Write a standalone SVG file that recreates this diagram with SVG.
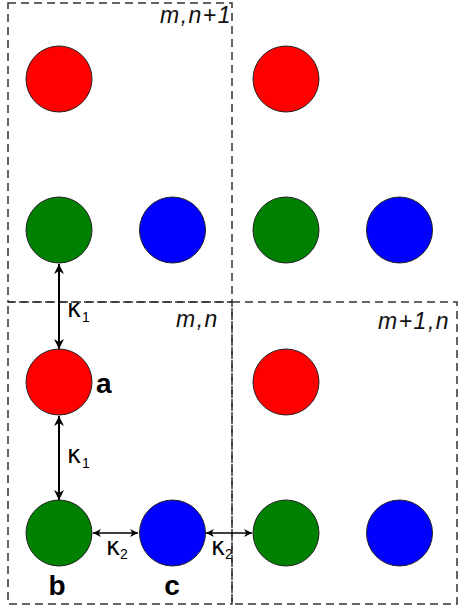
<svg xmlns="http://www.w3.org/2000/svg" width="459" height="609" viewBox="0 0 459 609">
<defs>
<style>
.box{fill:none;stroke:#333;stroke-width:1.5;stroke-dasharray:8 5}
.r{fill:#ff0000;stroke:#222;stroke-width:1}
.g{fill:#008000;stroke:#222;stroke-width:1}
.b{fill:#0000ff;stroke:#222;stroke-width:1}
.cell{font-family:"Liberation Sans",Arial,sans-serif;font-style:italic;font-size:23px;letter-spacing:1.5px;fill:#111}
.lbl{font-family:"Liberation Sans",Arial,sans-serif;font-weight:bold;font-size:28px;fill:#000}
.k{font-family:"DejaVu Sans",sans-serif;font-size:24px;fill:#000}
.sub{font-family:"Liberation Sans",Arial,sans-serif;font-size:14px;fill:#000}
.v{stroke:#000;stroke-width:2;fill:none;marker-start:url(#hv);marker-end:url(#hv)}
.h{stroke:#000;stroke-width:1.3;fill:none;marker-start:url(#hh);marker-end:url(#hh)}
</style>
<marker id="hv" viewBox="0 0 10 10" refX="10" refY="5" markerUnits="userSpaceOnUse" markerWidth="11" markerHeight="10" orient="auto-start-reverse">
<path d="M0,0 L10,5 L0,10 L3,5 z" fill="#000"/>
</marker>
<marker id="hh" viewBox="0 0 10 10" refX="10" refY="5" markerUnits="userSpaceOnUse" markerWidth="9" markerHeight="8" orient="auto-start-reverse">
<path d="M0,0 L10,5 L0,10 L3,5 z" fill="#000"/>
</marker>
</defs>
<rect width="459" height="609" fill="#fff"/>
<g id="cells">
<rect class="box" x="8" y="3" width="224" height="299"/>
<rect class="box" x="8" y="302" width="224" height="302"/>
<rect class="box" x="232" y="302" width="225" height="302"/>
<text class="cell" x="160" y="23">m,n+1</text>
<text class="cell" x="176" y="327">m,n</text>
<text class="cell" x="378" y="329">m+1,n</text>
</g>
<g id="connectors">
<line class="v" x1="59" y1="264" x2="59" y2="349"/>
<line class="v" x1="59" y1="416" x2="59" y2="500"/>
<line class="h" x1="93" y1="533" x2="138" y2="533"/>
<line class="h" x1="206" y1="533" x2="252" y2="533"/>
<text class="k" x="67" y="317">κ</text><text class="sub" x="82" y="322">1</text>
<text class="k" x="67" y="463">κ</text><text class="sub" x="82" y="468">1</text>
<text class="k" x="106" y="555">κ</text><text class="sub" x="120" y="559">2</text>
<text class="k" x="211" y="555">κ</text><text class="sub" x="225" y="559">2</text>
</g>
<g id="n-r1"><circle class="r" cx="59" cy="79" r="33"/></g>
<g id="n-r2"><circle class="r" cx="286" cy="79" r="33"/></g>
<g id="n-g1"><circle class="g" cx="59" cy="230" r="33"/></g>
<g id="n-b1"><circle class="b" cx="172.5" cy="230" r="33"/></g>
<g id="n-g2"><circle class="g" cx="286" cy="230" r="33"/></g>
<g id="n-b2"><circle class="b" cx="399.5" cy="230" r="33"/></g>
<g id="n-a"><circle class="r" cx="59" cy="382" r="33"/><text class="lbl" x="96" y="393">a</text></g>
<g id="n-r3"><circle class="r" cx="286" cy="382" r="33"/></g>
<g id="n-b"><circle class="g" cx="59" cy="533" r="33"/><text class="lbl" x="57" y="595" text-anchor="middle">b</text></g>
<g id="n-c"><circle class="b" cx="172.5" cy="533" r="33"/><text class="lbl" x="172" y="595" text-anchor="middle">c</text></g>
<g id="n-g3"><circle class="g" cx="286" cy="533" r="33"/></g>
<g id="n-b3"><circle class="b" cx="399.5" cy="533" r="33"/></g>
</svg>
